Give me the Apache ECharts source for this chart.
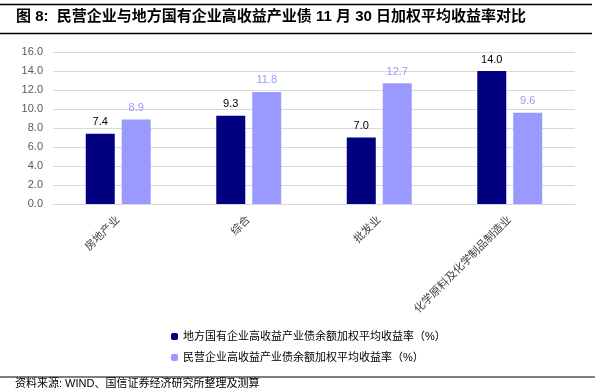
<!DOCTYPE html>
<html><head><meta charset="utf-8">
<script src="https://cdn.jsdelivr.net/npm/echarts@6/dist/echarts.min.js"></script>
<style>html,body{margin:0;padding:0;background:#fff}#c{width:595px;height:391px}</style>
</head><body><div id="c"></div>
<script>
const categories = ['房地产业', '综合', '批发业', '化学原料及化学制品制造业'];
const localSOE = [7.4, 9.3, 7.0, 14.0];
const privateEnt = [8.9, 11.8, 12.7, 9.6];
const seriesNames = ['地方国有企业高收益产业债余额加权平均收益率（%）', '民营企业高收益产业债余额加权平均收益率（%）'];
const titleText = '图 8:  民营企业与地方国有企业高收益产业债 11 月 30 日加权平均收益率对比';
const sourceText = '资料来源: WIND、国信证券经济研究所整理及测算';

const cjk = '"Liberation Sans", "Noto Sans CJK SC", sans-serif';
const chart = echarts.init(document.getElementById('c'), null, {renderer: 'canvas'});
chart.setOption({
  animation: false,
  backgroundColor: '#fff',
  textStyle: {fontFamily: cjk},
  graphic: [
    {type: 'line', shape: {x1: 0, y1: 4.5, x2: 592, y2: 4.5}, style: {stroke: '#000', lineWidth: 1.5}},
    {type: 'line', shape: {x1: 0, y1: 33.5, x2: 592, y2: 33.5}, style: {stroke: '#000', lineWidth: 1.5}},
    {type: 'text', left: 16, top: 9, style: {text: titleText, font: 'bold 15px ' + cjk, fill: '#000'}},
    {type: 'line', shape: {x1: 0, y1: 377, x2: 595, y2: 377}, style: {stroke: '#000', lineWidth: 1.2}},
    {type: 'text', left: 15, top: 378, style: {text: sourceText, font: '11px ' + cjk, fill: '#000'}}
  ],
  legend: {
    orient: 'vertical', left: 166, top: 326, itemWidth: 7, itemHeight: 7, itemGap: 10,
    textStyle: {fontSize: 11, color: '#000', fontFamily: cjk},
    data: seriesNames
  },
  grid: {left: 53, right: 20, top: 52, bottom: 187, containLabel: false},
  xAxis: {
    type: 'category', data: categories,
    axisLine: {show: true, lineStyle: {color: '#d9d9d9'}},
    axisTick: {show: false},
    axisLabel: {rotate: 45, fontSize: 11, color: '#404040', margin: 14, interval: 0}
  },
  yAxis: {
    type: 'value', min: 0, max: 16, interval: 2,
    axisLine: {show: false}, axisTick: {show: false},
    splitLine: {lineStyle: {color: '#d9d9d9'}},
    axisLabel: {fontSize: 11, color: '#595959', margin: 10, formatter: v => v.toFixed(1)}
  },
  series: [
    {name: seriesNames[0], type: 'bar', data: localSOE, barWidth: 29, barGap: '24%',
     itemStyle: {color: '#000080'},
     label: {show: true, position: 'top', color: '#000', fontSize: 11, distance: 6, formatter: p => p.value.toFixed(1)}},
    {name: seriesNames[1], type: 'bar', data: privateEnt, barWidth: 29,
     itemStyle: {color: '#9999FF'},
     label: {show: true, position: 'top', color: '#9999FF', fontSize: 11, distance: 6, formatter: p => p.value.toFixed(1)}}
  ]
});
</script></body></html>
